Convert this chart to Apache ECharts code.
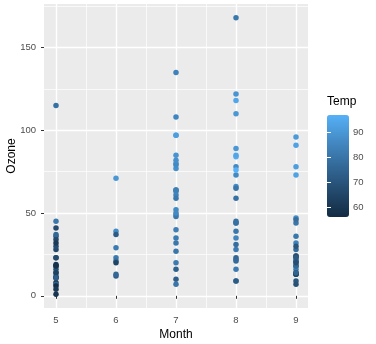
<!DOCTYPE html>
<html>
<head>
<meta charset="utf-8">
<script src="https://cdn.jsdelivr.net/npm/echarts@6/dist/echarts.min.js"></script>
<style>
  html, body { margin: 0; padding: 0; background: #fff; }
  #chart { width: 376px; height: 344px; }
</style>
</head>
<body>
<div id="chart"></div>
<script>
// Daily ozone readings (ppb) by month, coloured by temperature (°F)
const month = [
  5,5,5,5,5,5,5,5,5,5,5,5,5,5,5,5,5,5,5,5,5,5,5,5,5,5,
  6,6,6,6,6,6,6,6,6,
  7,7,7,7,7,7,7,7,7,7,7,7,7,7,7,7,7,7,7,7,7,7,7,7,7,7,
  8,8,8,8,8,8,8,8,8,8,8,8,8,8,8,8,8,8,8,8,8,8,8,8,8,8,
  9,9,9,9,9,9,9,9,9,9,9,9,9,9,9,9,9,9,9,9,9,9,9,9,9,9,9,9,9
];
const ozone = [
  41,36,12,18,28,23,19,8,7,16,11,14,18,14,34,6,30,11,1,11,4,32,23,45,115,37,
  29,71,39,23,21,37,20,12,13,
  135,49,32,64,40,77,97,97,85,10,27,7,48,35,61,79,63,16,80,108,20,52,82,50,64,59,
  39,9,16,78,35,66,122,89,110,44,28,65,22,59,23,31,44,21,9,45,168,73,76,118,84,85,
  96,78,73,91,47,32,20,23,21,24,44,21,28,9,13,46,18,13,24,16,13,23,36,7,14,30,14,18,20
];
const temp = [
  67,72,74,62,66,65,59,61,74,69,66,68,58,64,66,57,68,62,59,73,61,61,67,81,79,76,
  82,90,87,82,77,72,65,73,76,
  84,85,81,83,83,88,92,92,89,73,81,80,81,82,84,87,85,74,86,85,82,86,88,86,83,81,
  81,81,82,86,85,87,89,90,90,86,82,80,77,79,76,78,78,77,72,79,81,86,97,94,96,94,
  91,92,93,93,87,84,80,78,75,73,81,76,77,71,71,78,67,76,68,82,64,71,81,69,63,70,75,76,68
];

const monthBreaks = [5, 6, 7, 8, 9];
const monthMinor = [5.5, 6.5, 7.5, 8.5];
const ozoneBreaks = [0, 50, 100, 150];
const ozoneMinor = [25, 75, 125, 175];
const tempBreaks = [60, 70, 80, 90];
const tempRange = [56, 97];

// blue gradient, Lab interpolation of #132B43 -> #56B1F7
const gradient = ['#132B43', '#23496C', '#336998', '#448BC6', '#56B1F7'];

const points = month.map((m, i) => [m, ozone[i], temp[i]]);

const xMin = 4.8, xMax = 9.2;
const yLo = Math.min(...ozone), yHi = Math.max(...ozone);
const yPad = (yHi - yLo) * 0.05;
const yMin = yLo - yPad, yMax = yHi + yPad;

const FONT = 'Liberation Sans, Arial, sans-serif';
const tickText = { color: '#4D4D4D', fontSize: 9.5, fontFamily: FONT };
const majorGrid = { show: true, lineStyle: { color: '#fff', width: 1.4 } };
const minorGrid = { show: true, lineStyle: { color: '#fff', width: 0.7 } };

const chart = echarts.init(document.getElementById('chart'), null, { renderer: 'canvas' });
chart.setOption({
  animation: false,
  backgroundColor: '#ffffff',
  title: {
    text: 'Temp', left: 327, top: 96, padding: 0,
    textStyle: { fontSize: 12, fontWeight: 'normal', color: '#000', fontFamily: FONT }
  },
  grid: [
    { left: 44, right: 68, top: 4, bottom: 36, show: true, backgroundColor: '#EBEBEB', borderWidth: 0, outerBoundsMode: 'none', containLabel: false },
    { left: 327, top: 115, width: 22, height: 102, show: false, outerBoundsMode: 'none', containLabel: false }
  ],
  xAxis: [
    {
      gridIndex: 0, type: 'value', min: xMin, max: xMax, position: 'bottom',
      name: 'Month', nameLocation: 'middle', nameGap: 21, nameMoveOverlap: false,
      nameTextStyle: { fontSize: 12, color: '#000', fontFamily: FONT },
      axisLine: { show: false },
      axisTick: { show: true, length: 3, customValues: monthBreaks, lineStyle: { color: '#333', width: 1 } },
      axisLabel: Object.assign({ customValues: monthBreaks, margin: 7 }, tickText),
      splitLine: majorGrid
    },
    {
      gridIndex: 0, type: 'value', min: xMin, max: xMax, position: 'bottom',
      axisLine: { show: false },
      axisTick: { show: false, customValues: monthMinor },
      axisLabel: { show: false, customValues: monthMinor },
      splitLine: minorGrid
    },
    {
      gridIndex: 1, type: 'value', min: 0, max: 1, show: false
    }
  ],
  yAxis: [
    {
      gridIndex: 0, type: 'value', min: yMin, max: yMax, position: 'left',
      name: 'Ozone', nameLocation: 'middle', nameGap: 26, nameMoveOverlap: false,
      nameTextStyle: { fontSize: 12, color: '#000', fontFamily: FONT },
      axisLine: { show: false },
      axisTick: { show: true, length: 3, customValues: ozoneBreaks, lineStyle: { color: '#333', width: 1 } },
      axisLabel: Object.assign({ customValues: ozoneBreaks, margin: 8 }, tickText),
      splitLine: majorGrid
    },
    {
      gridIndex: 0, type: 'value', min: yMin, max: yMax, position: 'left',
      axisLine: { show: false },
      axisTick: { show: false, customValues: ozoneMinor },
      axisLabel: { show: false, customValues: ozoneMinor },
      splitLine: minorGrid
    },
    {
      // colourbar scale, right side with labels
      gridIndex: 1, type: 'value', min: tempRange[0], max: tempRange[1], position: 'right',
      axisLine: { show: false },
      axisTick: { show: true, inside: true, length: 4, customValues: tempBreaks, lineStyle: { color: '#fff', width: 1 } },
      axisLabel: Object.assign({ customValues: tempBreaks, margin: 4 }, tickText),
      splitLine: { show: false }, z: 10
    },
    {
      // colourbar scale, left side ticks only
      gridIndex: 1, type: 'value', min: tempRange[0], max: tempRange[1], position: 'left',
      axisLine: { show: false },
      axisTick: { show: true, inside: true, length: 4, customValues: tempBreaks, lineStyle: { color: '#fff', width: 1 } },
      axisLabel: { show: false, customValues: tempBreaks },
      splitLine: { show: false }, z: 10
    }
  ],
  visualMap: {
    type: 'continuous', seriesIndex: 0, dimension: 2,
    min: tempRange[0], max: tempRange[1],
    left: 327, top: 115, itemWidth: 22, itemHeight: 102,
    padding: 0, calculable: false, text: null, showLabel: false,
    inRange: { color: gradient }, z: 1
  },
  series: [{
    type: 'scatter', xAxisIndex: 0, yAxisIndex: 0,
    data: points, symbolSize: 5.5,
    itemStyle: { opacity: 1 },
    emphasis: { disabled: true }
  }]
});
</script>
</body>
</html>
